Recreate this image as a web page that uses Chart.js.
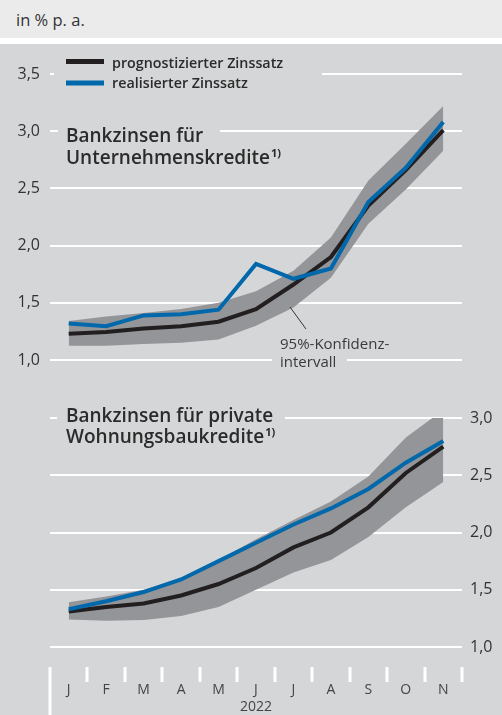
<!DOCTYPE html>
<html>
<head>
<meta charset="utf-8">
<script src="https://cdn.jsdelivr.net/npm/chart.js@4.4.0/dist/chart.umd.min.js"></script>
<style>
  body { margin: 0; background: #fff; width: 502px; height: 715px; overflow: hidden; font-family: 'Open Sans', sans-serif; }
  #head { position: absolute; left: 0; top: 0; width: 502px; height: 38px; background: #ebebec; color: #333; font-size: 16.5px; line-height: 40px; padding-left: 16px; box-sizing: border-box; }
  #panel { position: absolute; left: 0; top: 44px; width: 502px; height: 671px; background: #d5d6d8; }
  canvas { position: absolute; left: 0; }
  #upper { top: 44px; }
  #lower { top: 380px; }
</style>
</head>
<body>
<div id="head">in % p. a.</div>
<div id="panel"></div>
<canvas id="upper" width="502" height="336"></canvas>
<canvas id="lower" width="502" height="335"></canvas>
<script>
const months = ['J', 'F', 'M', 'A', 'M', 'J', 'J', 'A', 'S', 'O', 'N'];
const year = '2022';

// Bankzinsen für Unternehmenskredite
const firmForecast = [1.23, 1.245, 1.275, 1.295, 1.335, 1.445, 1.66, 1.90, 2.35, 2.66, 3.01];
const firmActual   = [1.32, 1.295, 1.39, 1.40, 1.44, 1.84, 1.71, 1.80, 2.38, 2.68, 3.08];
const firmBandLow  = [1.125, 1.125, 1.14, 1.15, 1.18, 1.30, 1.46, 1.72, 2.19, 2.49, 2.83];
const firmBandHigh = [1.34, 1.38, 1.41, 1.445, 1.50, 1.60, 1.78, 2.07, 2.57, 2.89, 3.22];

// Bankzinsen für private Wohnungsbaukredite
const houseForecast = [1.31, 1.35, 1.38, 1.45, 1.55, 1.69, 1.87, 2.00, 2.22, 2.52, 2.75];
const houseActual   = [1.33, 1.40, 1.48, 1.59, 1.75, 1.91, 2.07, 2.21, 2.38, 2.61, 2.80];
const houseBandLow  = [1.24, 1.23, 1.235, 1.27, 1.35, 1.50, 1.65, 1.76, 1.96, 2.22, 2.44];
const houseBandHigh = [1.39, 1.44, 1.50, 1.60, 1.76, 1.94, 2.11, 2.27, 2.49, 2.83, 3.07];

const upperTicks = [1.0, 1.5, 2.0, 2.5, 3.0, 3.5];
const lowerTicks = [1.0, 1.5, 2.0, 2.5, 3.0];

const PANEL = '#d5d6d8';
const BAND = '#939598';
const BLACK = '#231f20';
const BLUE = '#0068ab';
const TEXT = '#2b2b2b';
const FONT = "'Open Sans', sans-serif";

function fmt(v) {
    return v.toFixed(1).replace('.', ',');
}

function makeDatasets(low, high, forecast, actual) {
    return [
        { data: low, borderWidth: 0, pointRadius: 0, fill: false, order: 3 },
        { data: high, borderWidth: 0, pointRadius: 0, fill: '-1', backgroundColor: BAND, order: 2 },
        { data: forecast, borderColor: BLACK, borderWidth: 4, pointRadius: 0, fill: false, order: 1 },
        { data: actual, borderColor: BLUE, borderWidth: 4, pointRadius: 0, fill: false, order: 0 }
    ];
}

function yAxis(ticks, position, width, pad) {
    return {
        position: position,
        min: ticks[0],
        max: ticks[ticks.length - 1],
        afterBuildTicks: s => { s.ticks = ticks.map(v => ({ value: v })); },
        afterFit: s => { s.width = width; },
        border: { display: false },
        grid: { color: '#ffffff', lineWidth: 2, drawTicks: false },
        ticks: { padding: pad, color: '#333', font: { family: FONT, size: 16 }, callback: v => fmt(v) }
    };
}

function eraseGrid(ctx, x1, x2, y) {
    ctx.fillStyle = PANEL;
    ctx.fillRect(x1, y - 3, x2 - x1, 6);
}

function titleText(ctx, x, y1, y2, line1, line2) {
    ctx.fillStyle = TEXT;
    ctx.textBaseline = 'alphabetic';
    ctx.textAlign = 'left';
    ctx.font = '600 19px ' + FONT;
    ctx.fillText(line1, x, y1);
    ctx.fillText(line2, x, y2);
    const w = ctx.measureText(line2).width;
    ctx.font = '700 11px ' + FONT;
    ctx.fillText('1)', x + w + 1, y2 - 7);
}

const upperDecor = {
    id: 'upperDecor',
    afterDraw(chart) {
        const ctx = chart.ctx;
        const y = chart.scales.y;
        ctx.save();
        eraseGrid(ctx, 54, 322, y.getPixelForValue(3.5));
        eraseGrid(ctx, 58, 220, y.getPixelForValue(3.0));
        eraseGrid(ctx, 272, 347, y.getPixelForValue(1.0));

        // legend
        ctx.fillStyle = BLACK;
        ctx.fillRect(66, 15, 38, 5);
        ctx.fillStyle = BLUE;
        ctx.fillRect(66, 36.5, 38, 5);
        ctx.fillStyle = TEXT;
        ctx.font = '600 14.3px ' + FONT;
        ctx.textBaseline = 'alphabetic';
        ctx.fillText('prognostizierter Zinssatz', 112, 23.7);
        ctx.fillText('realisierter Zinssatz', 112, 43.7);

        titleText(ctx, 66, 97.7, 120, 'Bankzinsen für', 'Unternehmenskredite');

        // 95% label with leader
        ctx.fillStyle = '#3a3a3a';
        ctx.font = '15px ' + FONT;
        ctx.fillText('95%-Konfidenz-', 280, 304.7);
        ctx.fillText('intervall', 280, 323);
        ctx.strokeStyle = '#333';
        ctx.lineWidth = 1;
        ctx.beginPath();
        ctx.moveTo(290, 263);
        ctx.lineTo(306, 285);
        ctx.stroke();
        ctx.restore();
    }
};

const lowerDecor = {
    id: 'lowerDecor',
    afterDraw(chart) {
        const ctx = chart.ctx;
        const y = chart.scales.y;
        const x = chart.scales.x;
        ctx.save();
        eraseGrid(ctx, 57, 285, y.getPixelForValue(3.0));
        titleText(ctx, 66, 42, 63, 'Bankzinsen für private', 'Wohnungsbaukredite');

        // month separators below the axis
        const step = x.getPixelForValue(1) - x.getPixelForValue(0);
        const top = chart.chartArea.bottom + 20;
        ctx.fillStyle = '#ffffff';
        for (let i = 0; i <= months.length; i++) {
            const px = x.getPixelForValue(0) - step / 2 + i * step;
            const h = i === 0 ? chart.height - top : 15;
            ctx.fillRect(Math.round(px) - 1.5, top, 3, h);
        }
        ctx.restore();
    }
};

function baseOptions() {
    return {
        responsive: false,
        animation: false,
        devicePixelRatio: 1,
        events: [],
        elements: { line: { tension: 0, borderCapStyle: 'butt', borderJoinStyle: 'miter' } },
        plugins: { legend: { display: false }, tooltip: { enabled: false } }
    };
}

function initCharts() {
    const upperOpts = baseOptions();
    upperOpts.layout = { padding: { top: 30, right: 40, bottom: 20, left: 0 } };
    upperOpts.scales = {
        x: { type: 'category', offset: true, display: false },
        y: yAxis(upperTicks, 'left', 50, 10)
    };
    new Chart(document.getElementById('upper').getContext('2d'), {
        type: 'line',
        data: { labels: months, datasets: makeDatasets(firmBandLow, firmBandHigh, firmForecast, firmActual) },
        options: upperOpts,
        plugins: [upperDecor]
    });

    const lowerOpts = baseOptions();
    lowerOpts.layout = { padding: { top: 38, right: 0, bottom: 0, left: 50 } };
    lowerOpts.scales = {
        x: {
            type: 'category',
            offset: true,
            afterFit: s => { s.height = 68; },
            border: { display: false },
            grid: { display: false },
            ticks: { padding: 27, color: '#444', font: { family: FONT, size: 14 } },
            title: { display: true, text: year, color: '#444', padding: 0, font: { family: FONT, size: 14 } }
        },
        y: yAxis(lowerTicks, 'right', 40, 8)
    };
    new Chart(document.getElementById('lower').getContext('2d'), {
        type: 'line',
        data: { labels: months, datasets: makeDatasets(houseBandLow, houseBandHigh, houseForecast, houseActual) },
        options: lowerOpts,
        plugins: [lowerDecor]
    });
}

document.addEventListener('DOMContentLoaded', initCharts);
</script>
</body>
</html>
